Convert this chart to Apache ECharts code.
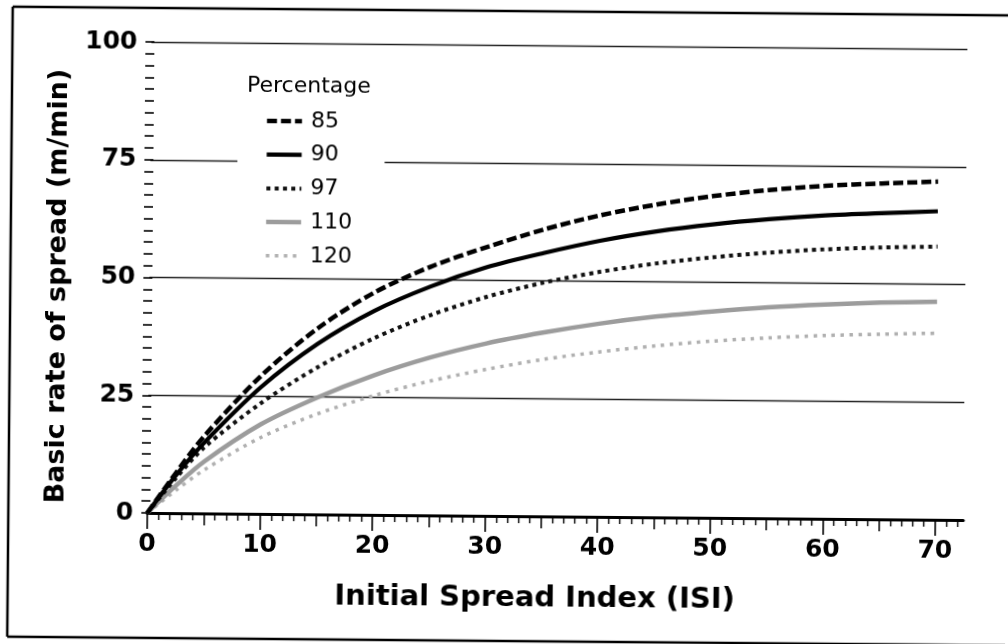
<!DOCTYPE html>
<html><head><meta charset="utf-8">
<script src="https://cdn.jsdelivr.net/npm/echarts@6/dist/echarts.min.js"></script>
<style>
html,body{margin:0;padding:0;background:#fff;overflow:hidden}
#c{width:1008px;height:644px;transform:rotate(0.5deg);transform-origin:50% 50%;}
</style>
</head><body><div id="c"></div>
<script>
// ---- data ----
const isi = [0, 2.5, 5, 10, 15, 20, 25, 30, 35, 40, 45, 50, 55, 60, 65, 70];
const pct85  = [0, 8.5, 16.4, 29.3, 39.5, 47.2, 52.8, 57.1, 60.9, 64.0, 66.4, 68.3, 69.7, 70.7, 71.3, 71.8];
const pct90  = [0, 8.0, 15.0, 26.9, 36.2, 43.3, 48.6, 52.8, 55.9, 58.6, 60.7, 62.3, 63.5, 64.4, 65.0, 65.5];
const pct97  = [0, 7.4, 14.0, 23.5, 31.2, 37.5, 42.5, 46.5, 49.6, 52.0, 53.9, 55.3, 56.4, 57.2, 57.7, 58.0];
const pct110 = [0, 5.8, 11.0, 19.0, 24.8, 29.6, 33.5, 36.6, 39.0, 41.0, 42.6, 43.8, 44.8, 45.5, 46.0, 46.3];
const pct120 = [0, 4.8, 9.2, 16.2, 21.3, 25.3, 28.5, 31.1, 33.3, 35.0, 36.4, 37.5, 38.3, 38.9, 39.3, 39.6];
const seriesNames = ['85', '90', '97', '110', '120'];
const xLabelValues = [0, 10, 20, 30, 40, 50, 60, 70];
const xMidTicks = [5, 15, 25, 35, 45, 55, 65];
const xMinorTicks = [1,2,3,4,6,7,8,9,11,12,13,14,16,17,18,19,21,22,23,24,26,27,28,29,31,32,33,34,36,37,38,39,41,42,43,44,46,47,48,49,51,52,53,54,56,57,58,59,61,62,63,64,66,67,68,69,71,72];
const yTickLabels = [0, 25, 50, 75, 100];
const xTitle = 'Initial Spread Index (ISI)';
const yTitle = 'Basic rate of spread (m/min)';
const legendTitle = 'Percentage';

const BOLD = '"DejaVu Sans", sans-serif';
const REG = '"DejaVu Sans", sans-serif';
const pairs = arr => isi.map((x, i) => [x, arr[i]]);

const styles = [
  {color: '#000', width: 4.5, type: [10, 4]},
  {color: '#000', width: 4.2, type: 'solid'},
  {color: '#111', width: 4, type: [4, 4.3]},
  {color: '#9c9c9c', width: 4.5, type: 'solid'},
  {color: '#b0b0b0', width: 3.5, type: [3.5, 5.5]}
];
const values = [pct85, pct90, pct97, pct110, pct120];

const chart = echarts.init(document.getElementById('c'), null, {renderer: 'canvas'});
const baseX = {type: 'value', min: 0, max: 72.5, position: 'bottom', gridIndex: 0, splitLine: {show: false}};
chart.setOption({
  animation: false,
  backgroundColor: '#fff',
  title: {text: legendTitle, left: 245, top: 77, padding: 0,
    textStyle: {fontFamily: REG, fontSize: 22, fontWeight: 'normal', color: '#000', lineHeight: 22}},
  grid: {left: 149, right: 43, top: 45, bottom: 128, containLabel: false},
  legend: {
    orient: 'vertical', left: 236, top: 102, padding: [10, 32, 10, 27],
    backgroundColor: '#fff', itemWidth: 35, itemHeight: 14, itemGap: 11.7,
    data: seriesNames,
    lineStyle: {width: 'inherit'},
    itemStyle: {color: 'rgba(0,0,0,0)', borderColor: 'rgba(0,0,0,0)', borderWidth: 0},
    textStyle: {fontFamily: REG, fontSize: 22, color: '#000', lineHeight: 20, padding: [0, 0, 0, 4]}
  },
  xAxis: [
    Object.assign({}, baseX, {
      axisLine: {show: true, lineStyle: {color: '#000', width: 3}},
      axisTick: {show: true, customValues: xLabelValues, length: 16, lineStyle: {color: '#000', width: 1.6}},
      axisLabel: {show: true, customValues: xLabelValues, margin: 19, color: '#000',
        fontFamily: BOLD, fontWeight: 'bold', fontSize: 25}
    }),
    Object.assign({}, baseX, {
      axisLine: {show: false},
      axisTick: {show: true, customValues: xMidTicks, length: 12, lineStyle: {color: '#000', width: 1.5}},
      axisLabel: {show: false}
    }),
    Object.assign({}, baseX, {
      axisLine: {show: false},
      axisTick: {show: true, customValues: xMinorTicks, length: 7, lineStyle: {color: '#000', width: 1.4}},
      axisLabel: {show: false}
    })
  ],
  yAxis: {
    type: 'value', min: 0, max: 100, interval: 25, offset: -3,
    axisLine: {show: false},
    axisTick: {show: true, length: 9, lineStyle: {color: '#000', width: 1.6}},
    minorTick: {show: true, splitNumber: 10, length: 9, lineStyle: {color: '#000', width: 1.6}},
    axisLabel: {margin: 17, color: '#000', fontFamily: BOLD, fontWeight: 'bold', fontSize: 25,
      customValues: yTickLabels},
    splitLine: {show: true, lineStyle: {color: '#222', width: 1.3}}
  },
  series: seriesNames.map((n, i) => ({
    name: n, type: 'line', xAxisIndex: 0, yAxisIndex: 0,
    data: pairs(values[i]), symbol: 'none', showSymbol: false,
    smooth: 0.3,
    lineStyle: {color: styles[i].color, width: styles[i].width, type: styles[i].type, cap: 'butt'},
    itemStyle: {color: styles[i].color},
    z: 5 - i
  })),
  graphic: [
    {type: 'line', shape: {x1: 10, y1: 11, x2: 1008, y2: 11}, style: {stroke: '#000', lineWidth: 2.5}},
    {type: 'line', shape: {x1: 10, y1: 11, x2: 10, y2: 641}, style: {stroke: '#000', lineWidth: 2.5}},
    {type: 'line', shape: {x1: 10, y1: 641, x2: 1008, y2: 641}, style: {stroke: '#000', lineWidth: 2.5}},
    {type: 'text', x: 537, y: 598, style: {text: xTitle, fontFamily: BOLD, fontWeight: 'bold', fontSize: 29,
      fill: '#000', align: 'center', verticalAlign: 'middle'}},
    {type: 'text', x: 58, y: 290, rotation: Math.PI / 2, style: {text: yTitle, fontFamily: BOLD, fontWeight: 'bold',
      fontSize: 27, fill: '#000', align: 'center', verticalAlign: 'middle'}}
  ]
});
</script></body></html>
